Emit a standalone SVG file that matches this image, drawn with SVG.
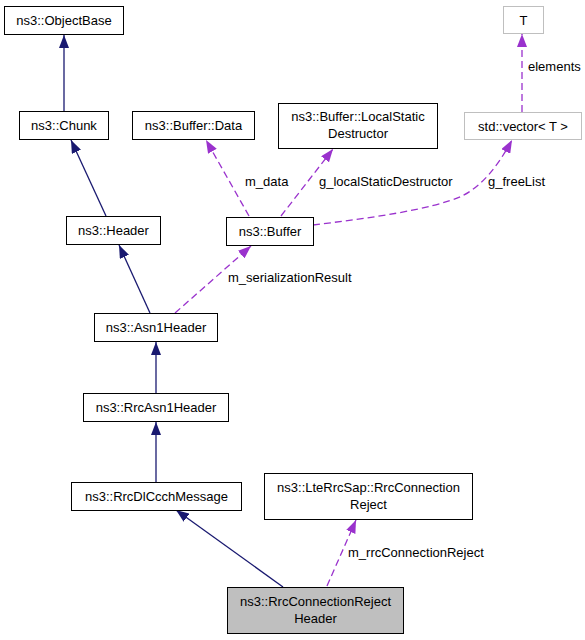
<svg xmlns="http://www.w3.org/2000/svg" width="585" height="640" viewBox="0 0 585 640">
<style>
.box{fill:#ffffff;stroke:#000000;stroke-width:1}
.gray{fill:#ffffff;stroke:#bfbfbf;stroke-width:1}
.sel{fill:#bfbfbf;stroke:#000000;stroke-width:1}
text{font-family:"Liberation Sans",Arial,sans-serif;font-size:13px;fill:#000000}
.c{text-anchor:middle}
.inh{fill:none;stroke:#191970;stroke-width:1.3}
.use{fill:none;stroke:#9a32cd;stroke-width:1.3;stroke-dasharray:7,4}
</style>
<defs>
<marker id="ab" viewBox="0 0 13 10" refX="13" refY="5" markerWidth="13" markerHeight="10" markerUnits="userSpaceOnUse" orient="auto"><path d="M0,0 L13,5 L0,10 Z" fill="#191970"/></marker>
<marker id="ap" viewBox="0 0 13 10" refX="13" refY="5" markerWidth="13" markerHeight="10" markerUnits="userSpaceOnUse" orient="auto"><path d="M0,0 L13,5 L0,10 Z" fill="#9a32cd"/></marker>
</defs>
<rect width="585" height="640" fill="#ffffff"/>
<g id="edges">
<path class="inh" d="M64,111 L64,35" marker-end="url(#ab)"/>
<path class="inh" d="M106,216 L71,140" marker-end="url(#ab)"/>
<path class="inh" d="M150,313 L119,245" marker-end="url(#ab)"/>
<path class="inh" d="M156,393 L156,342" marker-end="url(#ab)"/>
<path class="inh" d="M156,482 L156,422" marker-end="url(#ab)"/>
<path class="inh" d="M283,587 L176,510" marker-end="url(#ab)"/>
<path class="use" d="M249,216 L206,140" marker-end="url(#ap)"/>
<path class="use" d="M281,216 L333,149" marker-end="url(#ap)"/>
<path class="use" d="M313,225 C370,218 430,210 462,196 C482,186 498,166 512,140" marker-end="url(#ap)"/>
<path class="use" d="M522,112 L522,34" marker-end="url(#ap)"/>
<path class="use" d="M175,313 L251,246" marker-end="url(#ap)"/>
<path class="use" d="M327,586 L356,520" marker-end="url(#ap)"/>
<text x="245" y="186">m_data</text>
<text x="319" y="186">g_localStaticDestructor</text>
<text x="488" y="186">g_freeList</text>
<text x="528" y="71">elements</text>
<text x="228" y="282">m_serializationResult</text>
<text x="348" y="557">m_rrcConnectionReject</text>
</g>
<g id="node-objectbase"><rect class="box" x="4.5" y="6.5" width="119" height="28"/><text class="c" x="64" y="25">ns3::ObjectBase</text></g>
<g id="node-chunk"><rect class="box" x="19.5" y="111.5" width="89" height="28"/><text class="c" x="64" y="130">ns3::Chunk</text></g>
<g id="node-bufferdata"><rect class="box" x="132.5" y="111.5" width="122" height="28"/><text class="c" x="193.5" y="130">ns3::Buffer::Data</text></g>
<g id="node-localstatic"><rect class="box" x="278.5" y="103.5" width="159" height="45"/><text class="c" x="358" y="121">ns3::Buffer::LocalStatic</text><text class="c" x="358" y="138">Destructor</text></g>
<g id="node-vector"><rect class="gray" x="464.5" y="112.5" width="117" height="27"/><text class="c" x="523" y="130.5">std::vector&lt; T &gt;</text></g>
<g id="node-T"><rect class="gray" x="503.5" y="6.5" width="40" height="27"/><text class="c" x="523.5" y="24.5">T</text></g>
<g id="node-header"><rect class="box" x="66.5" y="216.5" width="94" height="28"/><text class="c" x="113.5" y="235">ns3::Header</text></g>
<g id="node-buffer"><rect class="box" x="226.5" y="217.5" width="87" height="28"/><text class="c" x="270" y="236">ns3::Buffer</text></g>
<g id="node-asn1header"><rect class="box" x="94.5" y="313.5" width="123" height="28"/><text class="c" x="156" y="332">ns3::Asn1Header</text></g>
<g id="node-rrcasn1header"><rect class="box" x="83.5" y="393.5" width="145" height="28"/><text class="c" x="156" y="412">ns3::RrcAsn1Header</text></g>
<g id="node-rrcdlccch"><rect class="box" x="71.5" y="482.5" width="170" height="28"/><text class="c" x="156.5" y="501">ns3::RrcDlCcchMessage</text></g>
<g id="node-lterrcsap"><rect class="box" x="264.5" y="473.5" width="208" height="46"/><text class="c" x="368.5" y="491.5">ns3::LteRrcSap::RrcConnection</text><text class="c" x="368.5" y="508.5">Reject</text></g>
<g id="node-rejectheader"><rect class="sel" x="227.5" y="587.5" width="176" height="46"/><text class="c" x="315.5" y="605.5">ns3::RrcConnectionReject</text><text class="c" x="315.5" y="622.5">Header</text></g>
</svg>
